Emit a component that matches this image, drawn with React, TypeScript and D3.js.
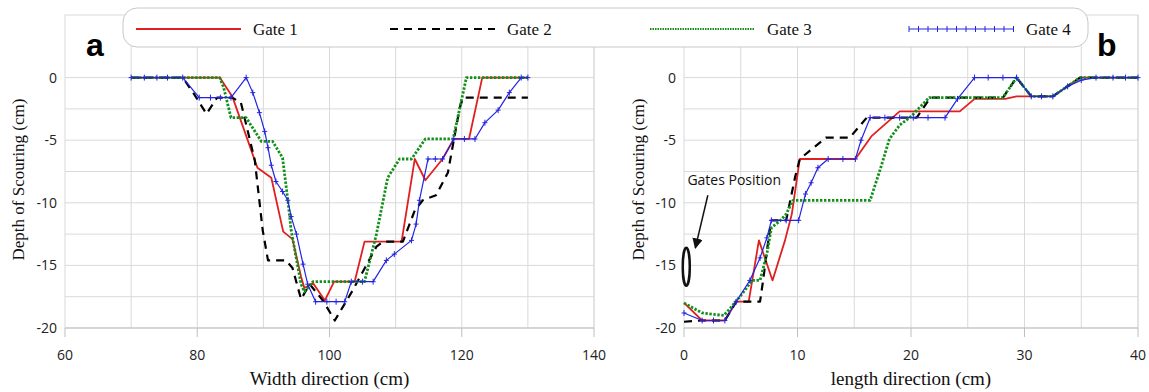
import * as d3 from "d3";

const gates = ["Gate 1", "Gate 2", "Gate 3", "Gate 4"];
const widthTicks = [60, 80, 100, 120, 140];
const widthGrid = [70, 80, 90, 100, 110, 120, 130, 140];
const lengthTicks = [0, 10, 20, 30, 40];
const lengthGrid = [5, 10, 15, 20, 25, 30, 35, 40];
const depthTicks = [0, -5, -10, -15, -20];
const depthGrid = [0, -2.5, -5, -7.5, -10, -12.5, -15, -17.5];

// panel a: width direction (cm) vs depth (cm)
const widthGate1 = [
  [70, 0], [83.4, 0], [85.3, -1.5], [89.1, -7.2], [91.2, -8.0], [93, -12.3], [94.4, -12.9],
  [95.7, -15.9], [96.2, -16.8], [97.5, -16.4], [99.3, -17.8], [100.7, -16.3], [103.8, -16.3],
  [105.3, -13.1], [110.9, -13.1], [112.9, -6.5], [114.5, -8.2], [117.1, -6.5], [118.8, -4.9],
  [121.1, -4.9], [123.1, 0], [130, 0],
];
const widthGate2 = [
  [70, 0], [77.8, 0], [79.5, -1.3], [81.4, -2.9], [83, -1.6], [85.3, -1.6], [86.6, -2],
  [88.7, -6.6], [89.9, -12.2], [90.7, -14.6], [93.4, -14.6], [94.4, -15.2], [95.7, -17.7],
  [97, -16.5], [99, -17.8], [100.8, -19.4], [103.5, -17], [107.1, -13.5], [108.1, -13.1],
  [111.1, -13.1], [112.9, -10.6], [114.1, -9.8], [116.1, -9.4], [117.9, -7.6], [119.7, -2.4],
  [120.2, -1.6], [130, -1.6],
];
const widthGate3 = [
  [70, 0], [83.4, 0], [84, -0.8], [85.1, -3.2], [87.4, -3.2], [89.7, -5.1], [91.4, -5.1],
  [92.9, -6.4], [93.7, -9.8], [94.2, -12.2], [95.7, -16.5], [96.2, -17.1], [97.5, -16.3],
  [105.3, -16.3], [107.1, -12.5], [108.8, -8.0], [110.6, -6.5], [112.4, -6.5], [114.5, -4.9],
  [118.7, -4.9], [120.7, 0], [130, 0],
];
const widthGate4 = [
  [70, 0], [72, 0], [73.9, 0], [75.5, 0], [77.8, 0], [80.3, -1.6], [82, -1.6], [83.5, -1.6],
  [85.1, -1.6], [87.4, 0], [88.4, -1.2], [89.4, -2.8], [90.2, -4.3], [90.7, -5.6], [91.2, -7],
  [91.9, -8.3], [92.9, -9.1], [93.7, -9.8], [94.2, -11.1], [95, -12.5], [96, -14.9],
  [96.7, -16.5], [97.9, -17.9], [99.6, -17.9], [101, -17.9], [102.3, -17.9], [103.3, -16.3],
  [105, -16.3], [106.6, -16.3], [108.6, -14.6], [109.8, -14.1], [112.4, -13], [113.1, -11.7],
  [113.6, -9.8], [114.9, -6.5], [116, -6.5], [117.1, -6.5], [118.8, -4.9], [120.4, -4.9],
  [122, -4.9], [123.5, -3.6], [125.5, -2.6], [127.2, -1.2], [129, 0], [130, 0],
];

// panel b: length direction (cm) vs depth (cm)
const lengthGate1 = [
  [0, -18], [1.6, -19.4], [3.6, -19.4], [4.6, -17.9], [5.7, -17.9], [6.6, -13], [7.8, -16.2],
  [8.9, -13], [9.5, -10.9], [10.2, -6.5], [15.1, -6.5], [16.5, -4.7], [19, -2.7], [24.3, -2.7],
  [25.6, -1.7], [28.3, -1.7], [29.3, -1.5], [32.5, -1.5], [34.9, 0], [40, 0],
];
const lengthGate2 = [
  [0, -19.5], [1.6, -19.4], [3.6, -19.4], [4.6, -17.9], [6.7, -17.9], [7, -16], [7.4, -13.2],
  [7.7, -11.4], [9, -11.4], [9.8, -7.9], [10.2, -6.5], [12.5, -4.8], [14.6, -4.8], [16.1, -3.2],
  [20.5, -3.2], [21.7, -1.6], [28.1, -1.6], [29.3, 0], [30.6, -1.5], [32.5, -1.5], [34.9, 0],
  [40, 0],
];
const lengthGate3 = [
  [0, -18], [1.6, -18.8], [3.5, -19], [4, -18.5], [5.1, -17.3], [6, -16.2], [6.7, -16.2],
  [7.3, -14.1], [7.7, -12], [8.5, -11.4], [9, -10.9], [9.6, -9.8], [16.4, -9.8], [17.3, -7.3],
  [18.1, -4.9], [19, -3.8], [20, -3.1], [21.6, -1.6], [28.1, -1.6], [29.3, 0], [30.6, -1.5],
  [32.5, -1.5], [34.9, 0], [40, 0],
];
const lengthGate4 = [
  [0, -18.8], [1.6, -19.4], [2.6, -19.4], [3.6, -19.4], [4.6, -17.9], [5.8, -16.2],
  [6.7, -14.4], [7.3, -12.8], [7.7, -11.4], [9, -11.4], [10.1, -11.4], [10.7, -9.3],
  [11.2, -8.4], [11.8, -7.2], [12.7, -6.5], [14, -6.5], [15.1, -6.5], [15.6, -5], [16.4, -3.2],
  [17.7, -3.2], [19, -3.2], [20.2, -3.2], [21.5, -3.2], [23, -3.2], [24.1, -1.7], [25.6, 0],
  [26.8, 0], [28.1, 0], [29.3, 0], [30.6, -1.5], [31.5, -1.5], [32.5, -1.5], [33.8, -0.7],
  [35, -0.2], [36.3, 0], [37.8, 0], [38.9, 0], [40, 0],
];

const styles = [
  { color: "#e02020", width: 1.8, dash: undefined },
  { color: "#000000", width: 2.2, dash: "8 6" },
  { color: "#13901a", width: 2.8, dash: "2.4 1.6" },
  { color: "#2424e0", width: 1.2, dash: undefined },
];

const W = 1149;
const H = 392;
const top = 15;
const bottom = 328;
const serif = "'Liberation Serif', 'Times New Roman', serif";
const sans = "'Open Sans', 'Liberation Sans', sans-serif";
const grid = "#d9d9d9";

type Pt = number[];

function Panel({ x, series, ticks, grids, xTitle, yTitleX, letter, letterX }: any) {
  const y = d3.scaleLinear().domain([-20, 5]).range([bottom, top]);
  const line = d3.line<Pt>().x(d => x(d[0])).y(d => y(d[1]));
  const [x0, x1] = x.range();
  return (
    <g>
      <rect x={x0} y={top} width={x1 - x0} height={bottom - top} fill="white" stroke={grid} />
      {grids.map((g: number) => (
        <line key={"v" + g} x1={x(g)} x2={x(g)} y1={top} y2={bottom} stroke={grid} />
      ))}
      {depthGrid.map(g => (
        <line key={"h" + g} x1={x0} x2={x1} y1={y(g)} y2={y(g)} stroke={grid} />
      ))}
      <line x1={x0} x2={x1} y1={bottom} y2={bottom} stroke="#bfbfbf" />
      {ticks.map((t: number) => (
        <g key={"t" + t}>
          <line x1={x(t)} x2={x(t)} y1={bottom} y2={bottom + 9} stroke="#bfbfbf" />
          <text x={x(t)} y={360} textAnchor="middle" fontFamily={sans} fontSize={14} fill="#222">
            {t}
          </text>
        </g>
      ))}
      {depthTicks.map(t => (
        <text key={"y" + t} x={x0 - 8} y={y(t) + 5} textAnchor="end" fontFamily={sans} fontSize={14} fill="#222">
          {t}
        </text>
      ))}
      <text x={(x0 + x1) / 2} y={385} textAnchor="middle" fontFamily={serif} fontSize={19} fill="#111">
        {xTitle}
      </text>
      <text
        transform={`translate(${yTitleX},${(top + bottom) / 2 + 8}) rotate(-90)`}
        textAnchor="middle"
        fontFamily={serif}
        fontSize={17}
        fill="#111"
      >
        Depth of Scouring (cm)
      </text>
      {series.map((s: Pt[], i: number) => (
        <path
          key={i}
          d={line(s) || ""}
          fill="none"
          stroke={styles[i].color}
          strokeWidth={styles[i].width}
          strokeDasharray={styles[i].dash}
          strokeLinejoin="round"
        />
      ))}
      {series[3].map((d: Pt, i: number) => (
        <path
          key={"m" + i}
          d={`M${x(d[0]) - 2.5},${y(d[1])}h5M${x(d[0])},${y(d[1]) - 3}v6`}
          stroke={styles[3].color}
          strokeWidth={1}
        />
      ))}
      <text x={letterX} y={56} fontFamily="'Liberation Sans', Arial, sans-serif" fontWeight="bold" fontSize={32} fill="#000">
        {letter}
      </text>
    </g>
  );
}

export default function App() {
  const xa = d3.scaleLinear().domain([60, 140]).range([65, 594]);
  const xb = d3.scaleLinear().domain([0, 40]).range([684, 1138]);
  const yb = d3.scaleLinear().domain([-20, 5]).range([bottom, top]);
  const legendX = [136, 390, 650, 909];
  return (
    <svg
      width={W}
      height={H}
      style={{ position: "fixed", left: 0, top: 0, background: "white" }}
    >
      <Panel
        x={xa}
        series={[widthGate1, widthGate2, widthGate3, widthGate4]}
        ticks={widthTicks}
        grids={widthGrid}
        xTitle="Width direction (cm)"
        yTitleX={24}
        letter="a"
        letterX={86}
      />
      <Panel
        x={xb}
        series={[lengthGate1, lengthGate2, lengthGate3, lengthGate4]}
        ticks={lengthTicks}
        grids={lengthGrid}
        xTitle="length direction (cm)"
        yTitleX={644}
        letter="b"
        letterX={1097}
      />
      {/* gates position annotation */}
      <text x={xb(0.3)} y={yb(-8.6)} fontFamily={sans} fontSize={14} fill="#111">
        Gates Position
      </text>
      <defs>
        <marker id="arr" viewBox="0 0 10 10" refX="9" refY="5" markerWidth="7" markerHeight="7" orient="auto">
          <path d="M0,0L10,5L0,10z" fill="#111" />
        </marker>
      </defs>
      <line x1={xb(2.1)} y1={yb(-9.4)} x2={xb(1)} y2={yb(-13.6)} stroke="#111" strokeWidth={1.5} markerEnd="url(#arr)" />
      <ellipse cx={xb(0.2)} cy={yb(-15.1)} rx={3.5} ry={19} fill="white" stroke="#111" strokeWidth={2.5} />
      {/* legend */}
      <rect x={123} y={8} width={965} height={39} rx={14} fill="white" stroke="#c8c8c8" />
      {gates.map((g, i) => (
        <g key={g}>
          <line
            x1={legendX[i]}
            x2={legendX[i] + 105}
            y1={29}
            y2={29}
            stroke={styles[i].color}
            strokeWidth={i === 2 ? 2 : styles[i].width}
            strokeDasharray={i === 2 ? "1.5 1" : styles[i].dash}
          />
          {i === 3 &&
            d3.range(0, 106, 9.5).map(k => (
              <line key={k} x1={legendX[i] + k} x2={legendX[i] + k} y1={26} y2={32} stroke={styles[3].color} />
            ))}
          <text x={legendX[i] + 117} y={35} fontFamily={serif} fontSize={17} fill="#111">
            {g}
          </text>
        </g>
      ))}
    </svg>
  );
}
